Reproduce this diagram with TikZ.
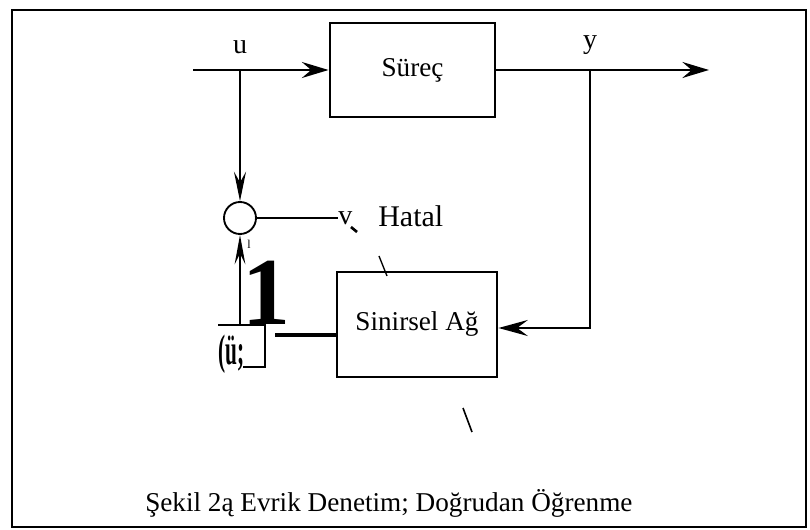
\documentclass[tikz,border=0pt]{standalone}
\usepackage{fontspec}
\setmainfont{Liberation Serif}
\usetikzlibrary{arrows.meta}

\begin{document}
\begin{tikzpicture}[x=0.75pt, y=-0.75pt,
  blok/.style={draw, line width=2.2pt, inner sep=0pt, font=\fontsize{20.4}{24}\selectfont},
  hat/.style={line width=1.8pt},
  ok/.style={hat, -{Stealth[length=20pt, width=12pt, inset=7pt]}},
  etiket/.style={font=\fontsize{21}{24}\selectfont, inner sep=0pt}]

\useasboundingbox (0,0) rectangle (810,530);
\draw[line width=2.2pt] (12,10) rectangle (806,527);

\node[blok, minimum width=123.75pt, minimum height=70.5pt] (surec) at (412.5,70) {Süreç};
\node[blok, minimum width=120pt, minimum height=78.75pt] (sinir) at (417,324.5) {Sinirsel Ağ};
\node[draw, circle, line width=1.4pt, minimum size=24pt, inner sep=0pt] (toplam) at (240,218) {};

\coordinate (giris) at (193,70);
\coordinate (dalu) at (240,70);
\coordinate (daly) at (590,70);
\coordinate (cikis) at (709,70);
\coordinate (kose) at (590,328);
\coordinate (geri) at (240,325);
\coordinate (ag) at (275,335);

\node[etiket] (lu) at (240,47) {u};
\node[etiket] (ly) at (590,45) {y};
\node[etiket, anchor=base west] (v) at (338,225) {v};
\node[etiket, anchor=base west, font=\fontsize{22.5}{26}\selectfont] (hata) at (378,227) {Hatal};
\node[inner sep=0pt, anchor=base, text height=0.66em, text depth=0pt, font=\fontsize{72}{72}\selectfont\bfseries] (bir) at (266,325) {1};
\node[inner sep=0pt, anchor=base west, font=\fontsize{32}{32}\selectfont\bfseries] (ii) at (218,365) {\scalebox{0.5}[1]{(ü;}};
\node[inner sep=0pt, anchor=base, font=\fontsize{9}{9}\selectfont] (el) at (249,249) {l};
\node[etiket, anchor=base west, font=\fontsize{20.4}{24}\selectfont] (baslik) at (145,511) {Şekil 2ą Evrik Denetim; Doğrudan Öğrenme};

\draw[ok] (giris) -- (surec);
\draw[ok] (surec) -- (cikis);
\draw[ok, -{Stealth[length=22pt, width=9pt, inset=8pt]}] (dalu) -- (toplam);
\draw[ok, -{Stealth[length=22pt, width=12pt, inset=8pt]}] (daly) |- (sinir.east |- kose);
\draw[ok, -{Stealth[length=22pt, width=8pt, inset=8pt]}] (geri) -- (toplam);
\draw[line width=3pt] (sinir.west |- ag) -- (ag);
\draw[line width=0.8pt] (toplam.east) -- (toplam.east -| v.west);
\draw[line width=2.2pt] (218,325) -- (265,325) -- (265,367) -- (243,367);

% lekeler
\draw[line width=2pt] (351,227) -- (357,232);
\draw[line width=1pt] (379,256) -- (387,276);
\draw[line width=1.2pt] (463,408) -- (472,432);

\end{tikzpicture}
\end{document}
